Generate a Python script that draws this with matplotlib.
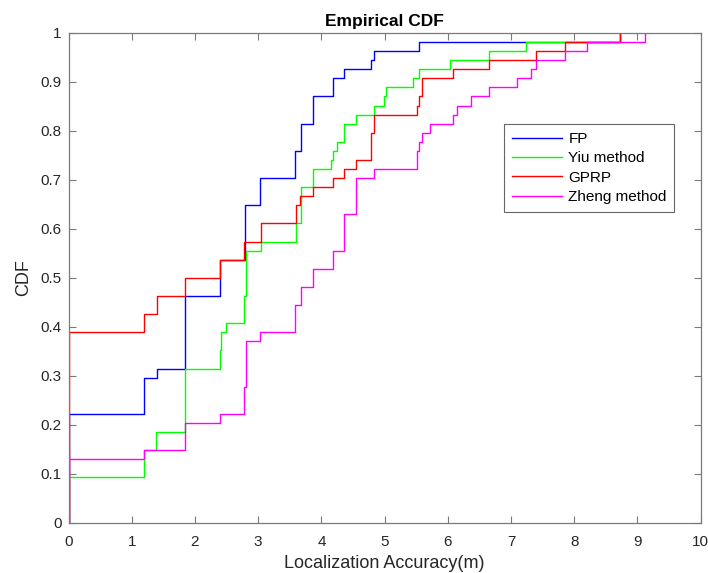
import numpy as np
import matplotlib
matplotlib.use("Agg")
import matplotlib.pyplot as plt

N = 54  # samples per method

fp_x = [0, 1.20, 1.40, 1.84, 2.40, 2.79, 3.03, 3.59, 3.67, 3.86, 4.19, 4.36, 4.79, 4.83, 5.55, 8.72]
fp_n = [12, 16, 17, 25, 29, 35, 38, 41, 44, 47, 49, 50, 51, 52, 53, 54]

yiu_x = [0, 1.20, 1.39, 1.84, 2.40, 2.42, 2.49, 2.77, 2.80, 3.04, 3.60, 3.68, 3.86, 4.16, 4.19,
         4.24, 4.36, 4.55, 4.83, 4.99, 5.03, 5.45, 5.55, 6.04, 6.65, 7.24, 8.72]
yiu_n = [5, 8, 10, 17, 19, 21, 22, 25, 30, 31, 33, 37, 39, 40, 41,
         42, 44, 45, 46, 47, 48, 49, 50, 51, 52, 53, 54]

gprp_x = [0, 1.20, 1.40, 1.84, 2.40, 2.77, 3.04, 3.60, 3.66, 3.86, 4.19, 4.36, 4.55, 4.79, 4.83,
          5.51, 5.55, 5.59, 6.08, 6.65, 7.39, 7.86, 8.72]
gprp_n = [21, 23, 25, 27, 29, 31, 33, 35, 36, 37, 38, 39, 40, 43, 45,
          46, 47, 49, 50, 51, 52, 53, 54]

zheng_x = [0, 1.20, 1.84, 2.40, 2.77, 2.80, 3.03, 3.59, 3.67, 3.86, 4.19, 4.36, 4.55, 4.83,
           5.51, 5.55, 5.59, 5.72, 6.08, 6.15, 6.37, 6.65, 7.09, 7.31, 7.39, 7.86, 8.20, 9.12]
zheng_n = [7, 8, 11, 12, 15, 20, 21, 24, 26, 28, 30, 34, 38, 39,
           41, 42, 43, 44, 45, 46, 47, 48, 49, 50, 51, 52, 53, 54]

labels = ["FP", "Yiu method", "GPRP", "Zheng method"]
colors = ["#0000ff", "#00ff00", "#ff0000", "#ff00ff"]
series = [(fp_x, fp_n), (yiu_x, yiu_n), (gprp_x, gprp_n), (zheng_x, zheng_n)]

xticks = list(range(0, 11))
yticks = [round(v * 0.1, 1) for v in range(0, 11)]
ytick_labels = ["0", "0.1", "0.2", "0.3", "0.4", "0.5", "0.6", "0.7", "0.8", "0.9", "1"]

plt.rcParams['font.family'] = ['Liberation Sans', 'DejaVu Sans']

fig = plt.figure(figsize=(7.08, 5.73), dpi=100)
ax = fig.add_axes([68.5 / 708, (573 - 522.7) / 573, (700.7 - 68.5) / 708, (522.7 - 33) / 573])

for (xs, ns), lab, col in zip(series, labels, colors):
    x = np.concatenate([[xs[0]], np.asarray(xs, float)])
    y = np.concatenate([[0.0], np.asarray(ns, float) / N])
    ax.step(x, y, where='post', color=col, lw=1.0, label=lab)

ax.set_xlim(0, 10)
ax.set_ylim(0, 1)
ax.set_xticks(xticks)
ax.set_xticklabels([str(t) for t in xticks])
ax.set_yticks(yticks)
ax.set_yticklabels(ytick_labels)

spine_col = "#7a7a7a"
for s in ax.spines.values():
    s.set_color(spine_col)
    s.set_linewidth(0.9)
ax.tick_params(direction='in', length=4.8, width=0.8, color=spine_col,
               top=True, right=True, labelsize=11, labelcolor="#262626")
ax.tick_params(axis='x', pad=8.5)
ax.tick_params(axis='y', pad=5)

ax.set_xlabel("Localization Accuracy(m)", fontsize=13, color="#262626", labelpad=5)
ax.set_ylabel("CDF", fontsize=13, color="#262626", labelpad=6)
ax.set_title("Empirical CDF", fontsize=12.5, fontweight='bold', pad=5)

leg = ax.legend(loc='upper left', bbox_to_anchor=(0.689, 0.8136), fontsize=11,
                frameon=True, fancybox=False, edgecolor="#404040", handlelength=3.3,
                handletextpad=0.4, borderpad=0.5, labelspacing=0.35, borderaxespad=0)
leg.get_frame().set_linewidth(0.8)

fig.savefig("out.png", dpi=100)
